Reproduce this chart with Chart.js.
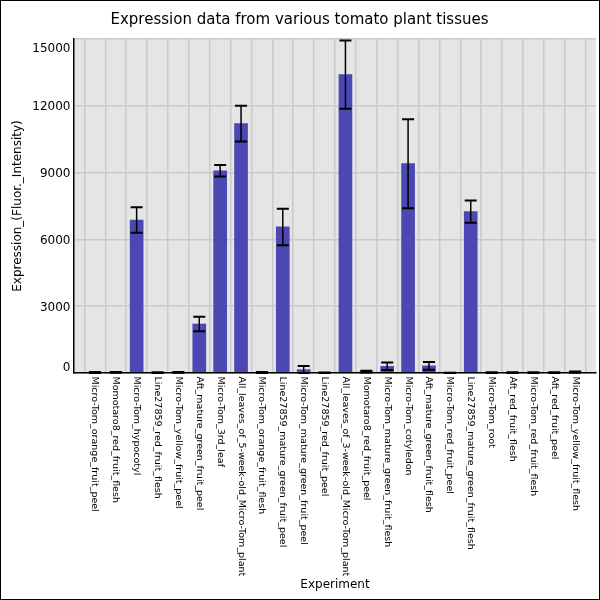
<!DOCTYPE html>
<html><head><meta charset="utf-8">
<script src="https://cdn.jsdelivr.net/npm/chart.js@4.4.1/dist/chart.umd.min.js"></script>
<style>html,body{margin:0;padding:0;background:#fff}#wrap{width:600px;height:600px}</style>
</head><body><div id="wrap"><canvas id="c" width="600" height="600"></canvas></div>
<script>
const categories = [
  'Micro-Tom_orange_fruit_peel','Momotaro8_red_fruit_flesh','Micro-Tom_hypocotyl','Line27859_red_fruit_flesh',
  'Micro-Tom_yellow_fruit_peel','Aft_mature_green_fruit_peel','Micro-Tom_3rd_leaf','All_leaves_of_5-week-old_Micro-Tom_plant',
  'Micro-Tom_orange_fruit_flesh','Line27859_mature_green_fruit_peel','Micro-Tom_mature_green_fruit_peel','Line27859_red_fruit_peel',
  'All_leaves_of_3-week-old_Micro-Tom_plant','Momotaro8_red_fruit_peel','Micro-Tom_mature_green_fruit_flesh','Micro-Tom_cotyledon',
  'Aft_mature_green_fruit_flesh','Micro-Tom_red_fruit_peel','Line27859_mature_green_fruit_flesh','Micro-Tom_root',
  'Aft_red_fruit_flesh','Micro-Tom_red_fruit_flesh','Aft_red_fruit_peel','Micro-Tom_yellow_fruit_flesh'
];
const expressionValues = [25, 30, 6870, 20, 25, 2200, 9080, 11200, 25, 6560, 150, 15, 13400, 60, 300, 9400, 320, 5, 7250, 20, 15, 15, 15, 40];
const errorValues      = [20, 20, 570, 15, 15, 330, 260, 800, 20, 820, 160, 12, 1530, 40, 170, 2000, 170, 5, 500, 15, 15, 15, 15, 25];
const yTickValues = [0, 3000, 6000, 9000, 12000, 15000];
const chartTitle = 'Expression data from various tomato plant tissues';
const xAxisTitle = 'Experiment';
const yAxisTitle = 'Expression_(Fluor._Intensity)';

const labels = [''].concat(categories, ['']);
const barData = [null].concat(expressionValues, [null]);
const errData = [null].concat(errorValues, [null]);
const FONT = '"DejaVu Sans", "Liberation Sans", sans-serif';

const bgPlugin = {
  id: 'bgPlugin',
  beforeDraw(chart) {
    const {ctx, chartArea: a} = chart;
    ctx.save();
    ctx.fillStyle = '#ffffff';
    ctx.fillRect(0, 0, chart.width, chart.height);
    ctx.fillStyle = '#e5e5e5';
    ctx.fillRect(a.left, a.top, a.right - a.left, a.bottom - a.top);
    ctx.restore();
  },
  afterDatasetsDraw(chart) {
    const {ctx} = chart;
    const meta = chart.getDatasetMeta(0);
    const ys = chart.scales.y;
    ctx.save();
    ctx.strokeStyle = '#000';
    meta.data.forEach((el, i) => {
      const v = barData[i], e = errData[i];
      if (v === null || v === undefined) return;
      const x = el.x;
      const yTop = ys.getPixelForValue(v + e);
      const yBot = ys.getPixelForValue(Math.max(0, v - e));
      ctx.lineWidth = 1.5;
      ctx.beginPath(); ctx.moveTo(x, yTop); ctx.lineTo(x, yBot); ctx.stroke();
      ctx.lineWidth = 2;
      ctx.beginPath();
      ctx.moveTo(x - 6, yTop); ctx.lineTo(x + 6, yTop);
      ctx.moveTo(x - 6, yBot); ctx.lineTo(x + 6, yBot);
      ctx.stroke();
    });
    ctx.restore();
  },
  afterDraw(chart) {
    const {ctx, chartArea: a} = chart;
    const xs = chart.scales.x, ys = chart.scales.y;
    ctx.save();
    ctx.fillStyle = '#000';
    // y tick labels
    ctx.font = '12px ' + FONT;
    ctx.textAlign = 'right';
    ctx.textBaseline = 'alphabetic';
    ys.ticks.forEach(t => {
      let c = ys.getPixelForValue(t.value);
      c = Math.min(Math.max(c, a.top + 8.5), a.bottom - 6.2);
      ctx.fillText(String(t.value), a.left - 3.5, c + 4.4);
    });
    // x tick labels, rotated clockwise
    ctx.font = '9.5px ' + FONT;
    ctx.textAlign = 'left';
    ctx.textBaseline = 'middle';
    for (let i = 1; i < labels.length - 1; i++) {
      const x = xs.getPixelForValue(i);
      ctx.save();
      ctx.translate(x, a.bottom + 3.5);
      ctx.rotate(Math.PI / 2);
      ctx.fillText(labels[i], 0, 0);
      ctx.restore();
    }
    // outer frame
    ctx.strokeStyle = '#000';
    ctx.lineWidth = 1;
    ctx.strokeRect(0.5, 0.5, chart.width - 1, chart.height - 1);
    ctx.restore();
  }
};

new Chart(document.getElementById('c'), {
  type: 'bar',
  data: {
    labels: labels,
    datasets: [{
      data: barData,
      backgroundColor: '#4b47b3',
      borderWidth: 0,
      barThickness: 13
    }]
  },
  options: {
    responsive: false,
    devicePixelRatio: 1,
    animation: false,
    layout: {padding: {left: 3, right: 4, top: 0, bottom: 0}},
    plugins: {
      legend: {display: false},
      tooltip: {enabled: false},
      title: {
        display: true, text: chartTitle, color: '#000',
        font: {family: FONT, size: 15, weight: 'normal'},
        padding: {top: 11, bottom: 10}
      }
    },
    scales: {
      x: {
        type: 'category',
        offset: false,
        grid: {color: '#cacaca', lineWidth: 1.5, drawTicks: false},
        border: {display: true, color: '#000', width: 1.5, z: 1},
        ticks: {display: false},
        title: {display: true, text: xAxisTitle, color: '#000', font: {family: FONT, size: 12}, padding: {top: 0, bottom: 8}},
        afterFit(s) { s.height = 227; }
      },
      y: {
        min: 0, max: 15000,
        afterBuildTicks(s) { s.ticks = yTickValues.map(v => ({value: v})); },
        grid: {color: '#cacaca', lineWidth: 1.5, drawTicks: false},
        border: {display: true, color: '#000', width: 1.5, z: 1},
        ticks: {display: false},
        title: {display: true, text: yAxisTitle, color: '#000', font: {family: FONT, size: 12}, padding: {top: 8, bottom: 0}},
        afterFit(s) { s.width = 71; }
      }
    }
  },
  plugins: [bgPlugin]
});
</script>
</body></html>
